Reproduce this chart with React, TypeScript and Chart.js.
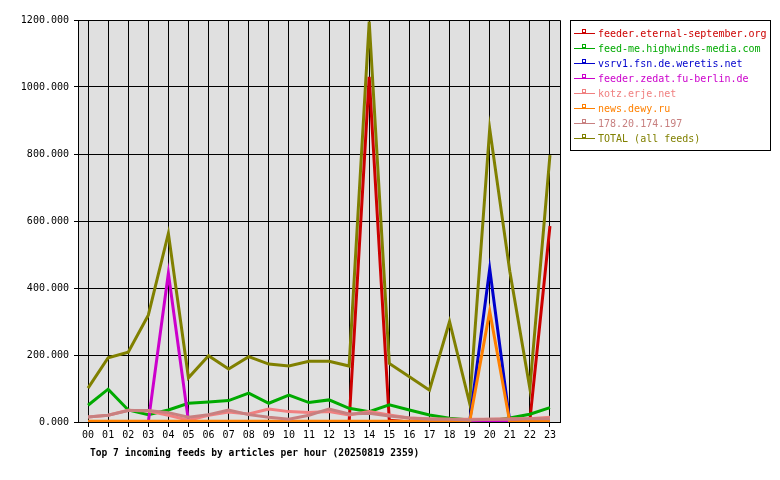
import React, { useEffect, useRef } from 'react';
import { Chart, registerables } from 'chart.js';

Chart.register(...registerables);

const hours = ['00', '01', '02', '03', '04', '05', '06', '07', '08', '09', '10', '11', '12', '13', '14', '15', '16', '17', '18', '19', '20', '21', '22', '23'];

const eternalSeptember = [0, 0, 0, 0, 0, 0, 0, 0, 0, 0, 0, 0, 0, 0, 1030, 5, 0, 0, 0, 0, 0, 0, 5, 585];
const highwinds = [50, 98, 36, 22, 36, 56, 60, 64, 86, 56, 80, 58, 66, 41, 31, 51, 36, 21, 11, 6, 3, 12, 23, 43];
const weretis = [0, 0, 0, 0, 0, 0, 0, 0, 0, 0, 0, 0, 0, 0, 0, 0, 0, 0, 0, 0, 457, 0, 0, 0];
const zedat = [0, 0, 0, 0, 444, 3, 0, 0, 0, 0, 0, 0, 0, 0, 0, 0, 0, 0, 0, 2, 3, 2, 0, 0];
const kotz = [15, 20, 35, 33, 20, 5, 20, 30, 24, 39, 31, 28, 31, 21, 31, 21, 12, 10, 8, 8, 8, 10, 10, 14];
const dewy = [2, 2, 2, 2, 2, 2, 2, 2, 2, 2, 2, 2, 2, 2, 2, 2, 2, 2, 2, 0, 331, 0, 2, 2];
const ip178 = [15, 20, 34, 34, 28, 14, 22, 36, 22, 14, 8, 20, 39, 24, 26, 18, 12, 8, 8, 6, 8, 8, 10, 10];
const total = [101, 192, 208, 319, 563, 132, 198, 158, 195, 173, 167, 181, 181, 167, 1195, 175, 135, 95, 300, 56, 875, 450, 100, 797];

const seriesNames = [
  'feeder.eternal-september.org',
  'feed-me.highwinds-media.com',
  'vsrv1.fsn.de.weretis.net',
  'feeder.zedat.fu-berlin.de',
  'kotz.erje.net',
  'news.dewy.ru',
  '178.20.174.197',
  'TOTAL (all feeds)',
];
const seriesValues = [eternalSeptember, highwinds, weretis, zedat, kotz, dewy, ip178, total];
const seriesColors = ['#cc0000', '#00aa00', '#0000cc', '#cc00cc', '#f08080', '#ff8000', '#c88080', '#808000'];

const yTicks = [0, 200, 400, 600, 800, 1000, 1200];
const chartTitle = 'Top 7 incoming feeds by articles per hour (20250819 2359)';

const FONT = '"DejaVu Sans Mono", "Liberation Mono", monospace';

const framePlugin = {
  id: 'frameAndLegend',
  beforeDraw(chart: any) {
    const { ctx, chartArea: a } = chart;
    ctx.save();
    ctx.fillStyle = '#e0e0e0';
    ctx.fillRect(a.left, a.top, a.right - a.left, a.bottom - a.top);
    ctx.restore();
  },
  afterDraw(chart: any) {
    const { ctx, chartArea: a } = chart;
    ctx.save();
    ctx.strokeStyle = '#000';
    ctx.lineWidth = 1;
    ctx.beginPath();
    ctx.moveTo(Math.round(a.left) + 0.5, Math.round(a.top) + 0.5);
    ctx.lineTo(Math.round(a.right) + 0.5, Math.round(a.top) + 0.5);
    ctx.lineTo(Math.round(a.right) + 0.5, Math.round(a.bottom) + 0.5);
    ctx.stroke();

    // legend box
    const lx = 570;
    const ly = 20;
    ctx.strokeRect(lx + 0.5, ly + 0.5, 200, 130);
    ctx.font = `10px ${FONT}`;
    ctx.textBaseline = 'middle';
    ctx.textAlign = 'left';
    chart.data.datasets.forEach((ds: any, i: number) => {
      const y = 33 + 15 * i;
      ctx.strokeStyle = ds.borderColor;
      ctx.lineWidth = 1;
      ctx.beginPath();
      ctx.moveTo(574, y + 0.5);
      ctx.lineTo(595, y + 0.5);
      ctx.stroke();
      ctx.strokeRect(582.5, y - 3.5, 3, 3);
      ctx.fillStyle = ds.borderColor;
      ctx.fillText(ds.label, 598, y + 1);
    });

    // title
    ctx.fillStyle = '#000';
    ctx.font = `bold 9.6px ${FONT}`;
    ctx.textBaseline = 'middle';
    ctx.fillText(chartTitle, 90, 453);
    ctx.restore();
  },
};

export default function App() {
  const ref = useRef<HTMLCanvasElement>(null);

  useEffect(() => {
    if (!ref.current) return;
    const datasets = seriesNames.map((name, i) => ({
      label: name,
      data: seriesValues[i],
      borderColor: seriesColors[i],
      backgroundColor: seriesColors[i],
      borderWidth: 3,
      pointRadius: 0,
      tension: 0,
      fill: false,
      order: i === 7 ? 10 : 8 - i,
    }));
    const chart = new Chart(ref.current, {
      type: 'line',
      data: { labels: hours, datasets },
      options: {
        responsive: false,
        devicePixelRatio: 1,
        animation: false,
        layout: { padding: { top: 20, right: 220, left: 0, bottom: 0 } },
        plugins: {
          legend: { display: false },
          tooltip: { enabled: false },
          title: { display: false },
        },
        scales: {
          x: {
            type: 'category',
            offset: true,
            grid: { color: '#000', lineWidth: 1, tickLength: 5, offset: false, tickColor: '#000' },
            border: { display: true, color: '#000', width: 1 },
            ticks: { font: { family: FONT, size: 10 }, color: '#000', padding: 2, autoSkip: false, maxRotation: 0 },
            afterFit: (s: any) => { s.height = 58; },
          },
          y: {
            min: yTicks[0],
            max: yTicks[yTicks.length - 1],
            grid: { color: '#000', lineWidth: 1, tickLength: 4, tickColor: '#000' },
            border: { display: true, color: '#000', width: 1 },
            ticks: {
              stepSize: 200,
              font: { family: FONT, size: 10 },
              color: '#000',
              padding: 5,
              callback: (v: any) => Number(v).toFixed(3),
            },
            afterFit: (s: any) => { s.width = 78; },
          },
        },
      },
      plugins: [framePlugin],
    });
    return () => chart.destroy();
  }, []);

  return (
    <div style={{ position: 'absolute', left: 0, top: 0, width: 780, height: 480, background: '#fff' }}>
      <canvas ref={ref} width={780} height={480} style={{ display: 'block', width: 780, height: 480 }} />
    </div>
  );
}
